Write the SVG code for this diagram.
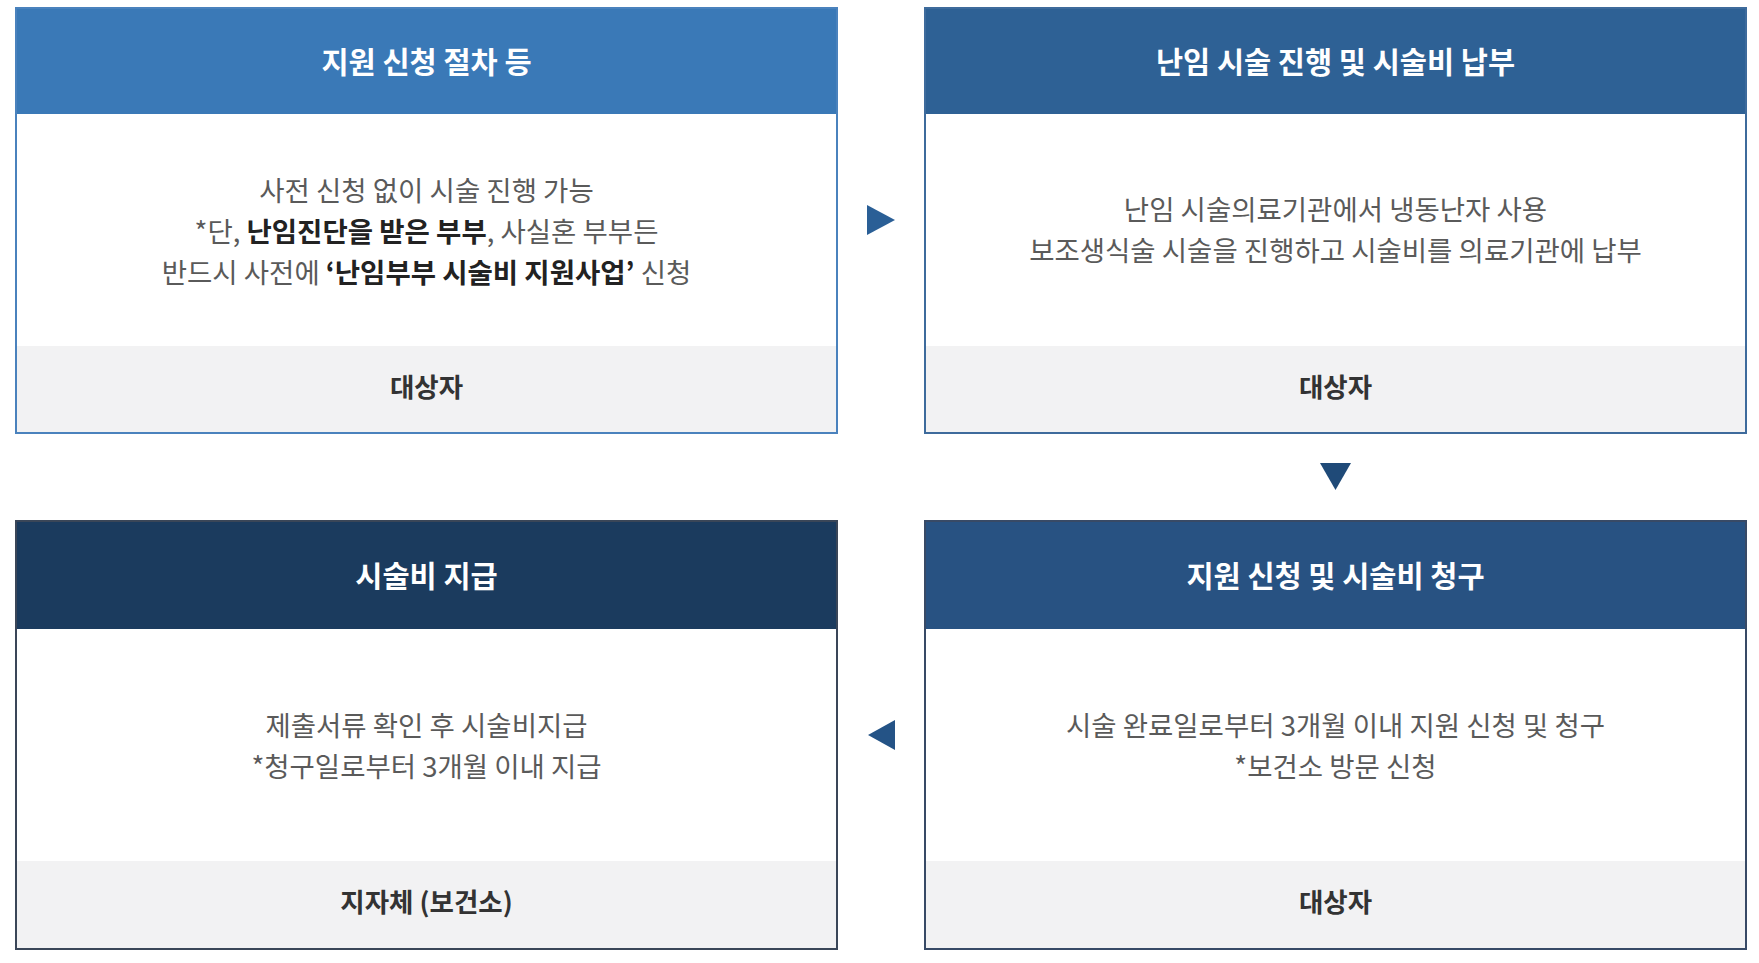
<svg xmlns="http://www.w3.org/2000/svg" width="1759" height="963" viewBox="0 0 1759 963">
<style>
  text { font-family: "Noto Sans CJK KR", "Liberation Sans", sans-serif; text-anchor: middle; dominant-baseline: central; }
  .title { font-size: 29.5px; font-weight: 700; fill: #ffffff; }
  .body { font-size: 27.5px; font-weight: 400; fill: #5a5a5a; }
  .b { font-weight: 700; fill: #222222; }
  .foot { font-size: 26.5px; font-weight: 700; fill: #333333; }
  .card { fill: #ffffff; }
  .footbg { fill: #f2f2f3; }
  .arrow { stroke: none; }
</style>
<rect x="0" y="0" width="1759" height="963" fill="#ffffff"/>

<g id="node-apply-procedure">
  <rect class="card" x="16" y="8" width="821" height="425"/>
  <rect x="16" y="8" width="821" height="106" fill="#3a79b7"/>
  <rect class="footbg" x="16" y="346" width="821" height="87"/>
  <rect x="16" y="8" width="821" height="425" fill="none" stroke="#4a82bd" stroke-width="2"/>
  <text class="title" x="426.5" y="60">지원 신청 절차 등</text>
  <text class="body" x="426.5" y="189">사전 신청 없이 시술 진행 가능</text>
  <text class="body" x="426.5" y="230">*단, <tspan class="b">난임진단을 받은 부부</tspan>, 사실혼 부부든</text>
  <text class="body" x="426.5" y="271">반드시 사전에 <tspan class="b">‘난임부부 시술비 지원사업’</tspan> 신청</text>
  <text class="foot" x="426.5" y="385">대상자</text>
</g>

<g id="node-treatment-payment">
  <rect class="card" x="925" y="8" width="821" height="425"/>
  <rect x="925" y="8" width="821" height="106" fill="#2e6195"/>
  <rect class="footbg" x="925" y="346" width="821" height="87"/>
  <rect x="925" y="8" width="821" height="425" fill="none" stroke="#3e6b9c" stroke-width="2"/>
  <text class="title" x="1335.5" y="60">난임 시술 진행 및 시술비 납부</text>
  <text class="body" x="1335.5" y="208">난임 시술의료기관에서 냉동난자 사용</text>
  <text class="body" x="1335.5" y="249">보조생식술 시술을 진행하고 시술비를 의료기관에 납부</text>
  <text class="foot" x="1335.5" y="385">대상자</text>
</g>

<g id="node-claim">
  <rect class="card" x="925" y="521" width="821" height="428"/>
  <rect x="925" y="521" width="821" height="108" fill="#285282"/>
  <rect class="footbg" x="925" y="861" width="821" height="88"/>
  <rect x="925" y="521" width="821" height="428" fill="none" stroke="#384a66" stroke-width="2"/>
  <text class="title" x="1335.5" y="574">지원 신청 및 시술비 청구</text>
  <text class="body" x="1335.5" y="724">시술 완료일로부터 3개월 이내 지원 신청 및 청구</text>
  <text class="body" x="1335.5" y="765">*보건소 방문 신청</text>
  <text class="foot" x="1335.5" y="900">대상자</text>
</g>

<g id="node-payment">
  <rect class="card" x="16" y="521" width="821" height="428"/>
  <rect x="16" y="521" width="821" height="108" fill="#1b3b5e"/>
  <rect class="footbg" x="16" y="861" width="821" height="88"/>
  <rect x="16" y="521" width="821" height="428" fill="none" stroke="#3a4658" stroke-width="2"/>
  <text class="title" x="426.5" y="574">시술비 지급</text>
  <text class="body" x="426.5" y="724">제출서류 확인 후 시술비지급</text>
  <text class="body" x="426.5" y="765">*청구일로부터 3개월 이내 지급</text>
  <text class="foot" x="426.5" y="900">지자체 (보건소)</text>
</g>

<g id="connectors">
  <polygon class="arrow" points="867,205 895,220 867,235" fill="#2a5f96"/>
  <polygon class="arrow" points="1320,463 1351,463 1335.5,490" fill="#1f4a78"/>
  <polygon class="arrow" points="895,720 868,735 895,750" fill="#245386"/>
</g>
</svg>
